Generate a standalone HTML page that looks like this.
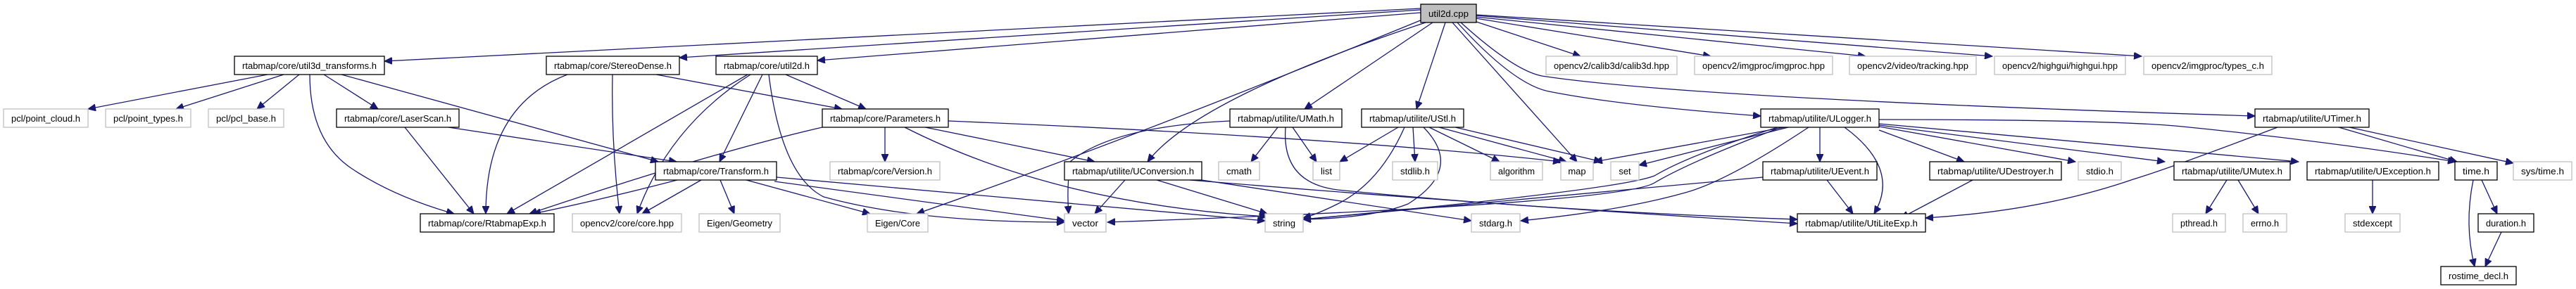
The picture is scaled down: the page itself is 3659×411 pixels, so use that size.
<!DOCTYPE html>
<html><head><meta charset="utf-8"><style>
html,body{margin:0;padding:0;background:#fff;width:3659px;height:411px;overflow:hidden}
svg text{font-family:"Liberation Sans",sans-serif;font-size:13px;fill:#000}
.e{fill:none;stroke:#191970;stroke-width:1.3}
.b{fill:#fff;stroke:#000;stroke-width:1.3}
.g{fill:#fff;stroke:#bfbfbf;stroke-width:1.3}
</style></head><body>
<svg width="3659" height="411" viewBox="0 0 3659 411" xmlns="http://www.w3.org/2000/svg">
<defs><marker id="a" markerUnits="userSpaceOnUse" markerWidth="12" markerHeight="10" refX="11" refY="5" orient="auto"><path d="M0,0 L11,5 L0,10 z" fill="#191970" stroke="#191970"/></marker></defs>
<g marker-end="url(#a)">
<!-- util2d.cpp -->
<path class="e" d="M2018,12 L546,87"/>
<path class="e" d="M2018,14 L965,82"/>
<path class="e" d="M2018,18 L1161,86"/>
<path class="e" d="M2020,28 Q1600,200 1302,304"/>
<path class="e" d="M2025,32 Q1700,140 1630,230"/>
<path class="e" d="M2035,32 L1853,155"/>
<path class="e" d="M2053,32 L2012,155"/>
<path class="e" d="M2063,32 L2240,230"/>
<path class="e" d="M2070,32 Q2150,120 2200,130 Q2300,150 2501,165"/>
<path class="e" d="M2075,32 Q2150,100 2190,108 Q2400,140 3203,165"/>
<path class="e" d="M2094,30 L2245,80"/>
<path class="e" d="M2096,26 L2430,80"/>
<path class="e" d="M2096,24 L2650,80"/>
<path class="e" d="M2096,22 L2830,80"/>
<path class="e" d="M2096,21 L3042,80"/>
<!-- util3d_transforms -->
<path class="e" d="M380,106 L125,155"/>
<path class="e" d="M403,106 L250,155"/>
<path class="e" d="M425,106 L365,155"/>
<path class="e" d="M460,106 L537,155"/>
<path class="e" d="M440,106 Q440,200 500,240 Q560,280 645,304"/>
<path class="e" d="M485,106 L935,230"/>
<!-- StereoDense -->
<path class="e" d="M806,106 Q690,150 690,304"/>
<path class="e" d="M870,106 Q868,200 880,304"/>
<path class="e" d="M932,106 L1196,155"/>
<!-- LaserScan -->
<path class="e" d="M575,181 L673,304"/>
<path class="e" d="M637,181 L961,230"/>
<!-- util2d.h -->
<path class="e" d="M1062,106 L720,304"/>
<path class="e" d="M1066,106 Q950,180 905,304"/>
<path class="e" d="M1083,106 L1022,230"/>
<path class="e" d="M1092,106 Q1110,250 1170,280 Q1300,316 1512,316"/>
<path class="e" d="M1116,106 L1230,155"/>
<!-- Parameters -->
<path class="e" d="M1168,181 Q1000,220 752,304"/>
<path class="e" d="M1257,181 L1257,230"/>
<path class="e" d="M1285,181 Q1500,290 1800,308"/>
<path class="e" d="M1314,181 L1555,230"/>
<path class="e" d="M1347,172 Q1900,195 2217,230"/>
<!-- Transform -->
<path class="e" d="M962,256 Q850,285 757,304"/>
<path class="e" d="M996,256 L912,304"/>
<path class="e" d="M1023,256 L1043,304"/>
<path class="e" d="M1060,256 L1236,304"/>
<path class="e" d="M1100,258 L1512,314"/>
<path class="e" d="M1103,252 L1797,314"/>
<!-- UConversion -->
<path class="e" d="M1598,256 L1555,304"/>
<path class="e" d="M1643,256 L1800,304"/>
<path class="e" d="M1690,256 Q2100,290 2553,318"/>
<path class="e" d="M1700,255 L2090,314"/>
<!-- UMath -->
<path class="e" d="M1747,172 Q1580,180 1520,230 Q1515,270 1518,304"/>
<path class="e" d="M1815,181 L1777,230"/>
<path class="e" d="M1836,181 L1870,230"/>
<path class="e" d="M1826,181 Q1820,260 1900,270 Q2200,300 2553,312"/>
<!-- UStl -->
<path class="e" d="M1986,181 L1903,230"/>
<path class="e" d="M1995,181 Q1960,260 1900,290 Q1870,305 1851,310"/>
<path class="e" d="M2007,181 L2010,230"/>
<path class="e" d="M2022,181 Q2080,240 2000,290 Q1950,310 1851,312"/>
<path class="e" d="M2030,181 L2130,230"/>
<path class="e" d="M2044,181 L2225,230"/>
<path class="e" d="M2067,181 L2275,230"/>
<!-- ULogger -->
<path class="e" d="M2535,181 L2265,230"/>
<path class="e" d="M2540,181 L2328,235"/>
<path class="e" d="M2525,181 Q2400,220 2350,250 Q2300,270 1851,312"/>
<path class="e" d="M2530,181 Q2400,230 2350,260 Q2300,290 1573,316"/>
<path class="e" d="M2569,181 Q2450,260 2390,275 Q2300,300 2160,314"/>
<path class="e" d="M2585,181 L2585,230"/>
<path class="e" d="M2620,181 Q2700,240 2662,304"/>
<path class="e" d="M2669,185 L2790,230"/>
<path class="e" d="M2669,180 L2948,230"/>
<path class="e" d="M2669,178 L3075,230"/>
<path class="e" d="M2669,176 L3265,230"/>
<path class="e" d="M2669,170 Q3000,170 3100,180 Q3300,200 3488,230"/>
<!-- misc -->
<path class="e" d="M2504,252 Q2200,280 1851,312"/>
<path class="e" d="M2595,256 L2632,304"/>
<path class="e" d="M2802,256 L2700,310"/>
<path class="e" d="M3235,181 Q3080,240 3030,255 Q2900,300 2735,310"/>
<path class="e" d="M3322,181 L3490,230"/>
<path class="e" d="M3337,181 L3570,232"/>
<path class="e" d="M3163,256 L3133,304"/>
<path class="e" d="M3179,256 L3208,304"/>
<path class="e" d="M3370,256 L3370,304"/>
<path class="e" d="M3525,256 L3547,304"/>
<path class="e" d="M3513,256 Q3500,320 3515,379"/>
<path class="e" d="M3553,330 L3530,379"/>
</g>
<!-- nodes -->
<g>
<rect x="2018" y="6" width="79" height="26" fill="#bfbfbf" stroke="#000" stroke-width="1.3"/><text x="2057.5" y="24" text-anchor="middle" textLength="57" lengthAdjust="spacingAndGlyphs">util2d.cpp</text>

<rect class="b" x="333" y="80" width="213" height="26"/><text x="439.5" y="98" text-anchor="middle" textLength="191" lengthAdjust="spacingAndGlyphs">rtabmap/core/util3d_transforms.h</text>
<rect class="b" x="776" y="80" width="189" height="26"/><text x="870.5" y="98" text-anchor="middle" textLength="167" lengthAdjust="spacingAndGlyphs">rtabmap/core/StereoDense.h</text>
<rect class="b" x="1017" y="80" width="144" height="26"/><text x="1089" y="98" text-anchor="middle" textLength="122" lengthAdjust="spacingAndGlyphs">rtabmap/core/util2d.h</text>
<rect class="g" x="2196" y="80" width="186" height="26"/><text x="2289" y="98" text-anchor="middle" textLength="164" lengthAdjust="spacingAndGlyphs">opencv2/calib3d/calib3d.hpp</text>
<rect class="g" x="2407" y="80" width="196" height="26"/><text x="2505" y="98" text-anchor="middle" textLength="174" lengthAdjust="spacingAndGlyphs">opencv2/imgproc/imgproc.hpp</text>
<rect class="g" x="2627" y="80" width="180" height="26"/><text x="2717" y="98" text-anchor="middle" textLength="158" lengthAdjust="spacingAndGlyphs">opencv2/video/tracking.hpp</text>
<rect class="g" x="2833" y="80" width="186" height="26"/><text x="2926" y="98" text-anchor="middle" textLength="164" lengthAdjust="spacingAndGlyphs">opencv2/highgui/highgui.hpp</text>
<rect class="g" x="3045" y="80" width="182" height="26"/><text x="3136" y="98" text-anchor="middle" textLength="160" lengthAdjust="spacingAndGlyphs">opencv2/imgproc/types_c.h</text>

<rect class="g" x="5" y="155" width="120" height="26"/><text x="65" y="173" text-anchor="middle" textLength="98" lengthAdjust="spacingAndGlyphs">pcl/point_cloud.h</text>
<rect class="g" x="150" y="155" width="121" height="26"/><text x="210.5" y="173" text-anchor="middle" textLength="99" lengthAdjust="spacingAndGlyphs">pcl/point_types.h</text>
<rect class="g" x="296" y="155" width="107" height="26"/><text x="349.5" y="173" text-anchor="middle" textLength="85" lengthAdjust="spacingAndGlyphs">pcl/pcl_base.h</text>
<rect class="b" x="478" y="155" width="174" height="26"/><text x="565" y="173" text-anchor="middle" textLength="152" lengthAdjust="spacingAndGlyphs">rtabmap/core/LaserScan.h</text>
<rect class="b" x="1168" y="155" width="179" height="26"/><text x="1257.5" y="173" text-anchor="middle" textLength="157" lengthAdjust="spacingAndGlyphs">rtabmap/core/Parameters.h</text>
<rect class="b" x="1747" y="155" width="159" height="26"/><text x="1826.5" y="173" text-anchor="middle" textLength="137" lengthAdjust="spacingAndGlyphs">rtabmap/utilite/UMath.h</text>
<rect class="b" x="1934" y="155" width="145" height="26"/><text x="2006.5" y="173" text-anchor="middle" textLength="123" lengthAdjust="spacingAndGlyphs">rtabmap/utilite/UStl.h</text>
<rect class="b" x="2501" y="155" width="168" height="26"/><text x="2585" y="173" text-anchor="middle" textLength="146" lengthAdjust="spacingAndGlyphs">rtabmap/utilite/ULogger.h</text>
<rect class="b" x="3203" y="155" width="162" height="26"/><text x="3284" y="173" text-anchor="middle" textLength="140" lengthAdjust="spacingAndGlyphs">rtabmap/utilite/UTimer.h</text>

<rect class="b" x="931" y="230" width="172" height="26"/><text x="1017" y="248" text-anchor="middle" textLength="150" lengthAdjust="spacingAndGlyphs">rtabmap/core/Transform.h</text>
<rect class="g" x="1179" y="230" width="156" height="26"/><text x="1257" y="248" text-anchor="middle" textLength="134" lengthAdjust="spacingAndGlyphs">rtabmap/core/Version.h</text>
<rect class="b" x="1512" y="230" width="195" height="26"/><text x="1609.5" y="248" text-anchor="middle" textLength="173" lengthAdjust="spacingAndGlyphs">rtabmap/utilite/UConversion.h</text>
<rect class="g" x="1731" y="230" width="58" height="26"/><text x="1760" y="248" text-anchor="middle" textLength="36" lengthAdjust="spacingAndGlyphs">cmath</text>
<rect class="g" x="1865" y="230" width="38" height="26"/><text x="1884" y="248" text-anchor="middle">list</text>
<rect class="g" x="1978" y="230" width="64" height="26"/><text x="2010" y="248" text-anchor="middle" textLength="42" lengthAdjust="spacingAndGlyphs">stdlib.h</text>
<rect class="g" x="2117" y="230" width="74" height="26"/><text x="2154" y="248" text-anchor="middle" textLength="52" lengthAdjust="spacingAndGlyphs">algorithm</text>
<rect class="g" x="2217" y="230" width="46" height="26"/><text x="2240" y="248" text-anchor="middle">map</text>
<rect class="g" x="2288" y="230" width="40" height="26"/><text x="2308" y="248" text-anchor="middle">set</text>
<rect class="b" x="2504" y="230" width="162" height="26"/><text x="2585" y="248" text-anchor="middle" textLength="140" lengthAdjust="spacingAndGlyphs">rtabmap/utilite/UEvent.h</text>
<rect class="b" x="2741" y="230" width="187" height="26"/><text x="2834.5" y="248" text-anchor="middle" textLength="165" lengthAdjust="spacingAndGlyphs">rtabmap/utilite/UDestroyer.h</text>
<rect class="g" x="2952" y="230" width="61" height="26"/><text x="2982.5" y="248" text-anchor="middle" textLength="39" lengthAdjust="spacingAndGlyphs">stdio.h</text>
<rect class="b" x="3088" y="230" width="165" height="26"/><text x="3170.5" y="248" text-anchor="middle" textLength="143" lengthAdjust="spacingAndGlyphs">rtabmap/utilite/UMutex.h</text>
<rect class="b" x="3277" y="230" width="187" height="26"/><text x="3370.5" y="248" text-anchor="middle" textLength="165" lengthAdjust="spacingAndGlyphs">rtabmap/utilite/UException.h</text>
<rect class="b" x="3487" y="230" width="60" height="26"/><text x="3517" y="248" text-anchor="middle" textLength="38" lengthAdjust="spacingAndGlyphs">time.h</text>
<rect class="g" x="3570" y="230" width="83" height="26"/><text x="3611.5" y="248" text-anchor="middle" textLength="61" lengthAdjust="spacingAndGlyphs">sys/time.h</text>

<rect class="b" x="597" y="304" width="190" height="26"/><text x="692" y="322" text-anchor="middle" textLength="168" lengthAdjust="spacingAndGlyphs">rtabmap/core/RtabmapExp.h</text>
<rect class="g" x="813" y="304" width="155" height="26"/><text x="890.5" y="322" text-anchor="middle" textLength="133" lengthAdjust="spacingAndGlyphs">opencv2/core/core.hpp</text>
<rect class="g" x="993" y="304" width="115" height="26"/><text x="1050.5" y="322" text-anchor="middle" textLength="93" lengthAdjust="spacingAndGlyphs">Eigen/Geometry</text>
<rect class="g" x="1232" y="304" width="86" height="26"/><text x="1275" y="322" text-anchor="middle" textLength="64" lengthAdjust="spacingAndGlyphs">Eigen/Core</text>
<rect class="g" x="1512" y="304" width="59" height="26"/><text x="1541.5" y="322" text-anchor="middle" textLength="37" lengthAdjust="spacingAndGlyphs">vector</text>
<rect class="g" x="1797" y="304" width="54" height="26"/><text x="1824" y="322" text-anchor="middle" textLength="32" lengthAdjust="spacingAndGlyphs">string</text>
<rect class="g" x="2090" y="304" width="69" height="26"/><text x="2124.5" y="322" text-anchor="middle" textLength="47" lengthAdjust="spacingAndGlyphs">stdarg.h</text>
<rect class="b" x="2553" y="304" width="182" height="26"/><text x="2644" y="322" text-anchor="middle" textLength="160" lengthAdjust="spacingAndGlyphs">rtabmap/utilite/UtiLiteExp.h</text>
<rect class="g" x="3086" y="304" width="75" height="26"/><text x="3123.5" y="322" text-anchor="middle" textLength="53" lengthAdjust="spacingAndGlyphs">pthread.h</text>
<rect class="g" x="3186" y="304" width="62" height="26"/><text x="3217" y="322" text-anchor="middle" textLength="40" lengthAdjust="spacingAndGlyphs">errno.h</text>
<rect class="g" x="3331" y="304" width="78" height="26"/><text x="3370" y="322" text-anchor="middle" textLength="56" lengthAdjust="spacingAndGlyphs">stdexcept</text>
<rect class="b" x="3520" y="304" width="79" height="26"/><text x="3559.5" y="322" text-anchor="middle" textLength="57" lengthAdjust="spacingAndGlyphs">duration.h</text>

<rect class="b" x="3467" y="379" width="107" height="26"/><text x="3520.5" y="397" text-anchor="middle" textLength="85" lengthAdjust="spacingAndGlyphs">rostime_decl.h</text>
</g>
</svg>
</body></html>
